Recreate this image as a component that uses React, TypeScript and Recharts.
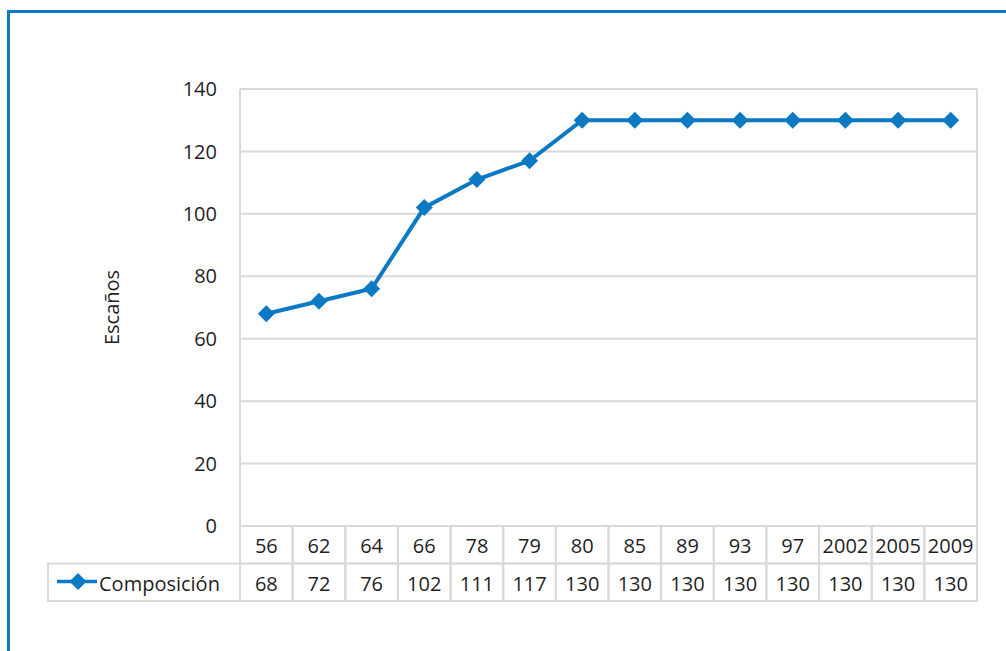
import { LineChart, Line, XAxis, YAxis, CartesianGrid } from 'recharts';

const YEARS = ['56', '62', '64', '66', '78', '79', '80', '85', '89', '93', '97', '2002', '2005', '2009'];
const SEATS = [68, 72, 76, 102, 111, 117, 130, 130, 130, 130, 130, 130, 130, 130];
const Y_TICKS = [0, 20, 40, 60, 80, 100, 120, 140];
const SERIES_NAME = 'Composición';

const DATA = YEARS.map((year, i) => ({ year, value: SEATS[i] }));

const BLUE = '#0b7ac3';
const GRID = '#d9d9d9';
const TEXT = '#1f1f1f';
const FONT = '"Open Sans", sans-serif';
const FS = 20;

// layout
const W = 1006;
const H = 651;
const PLOT_LEFT = 240;
const PLOT_RIGHT = 977;
const PLOT_TOP = 89;
const PLOT_BOTTOM = 526;
const ROW_H = 37.5;
const COL_W = (PLOT_RIGHT - PLOT_LEFT) / YEARS.length;
const LEGEND_LEFT = 48;

const Diamond = (props: any) => {
    const { cx, cy } = props;
    if (cx == null || cy == null) return null;
    const r = 8.5;
    return (
        <polygon
            points={`${cx},${cy - r} ${cx + r},${cy} ${cx},${cy + r} ${cx - r},${cy}`}
            fill={BLUE}
        />
    );
};

const TableTick = (props: any) => {
    const { x, payload, index } = props;
    const left = x - COL_W / 2;
    const r1 = PLOT_BOTTOM;
    const r2 = PLOT_BOTTOM + ROW_H;
    return (
        <g fontFamily={FONT} fontSize={FS} fill={TEXT}>
            <rect x={left} y={r1} width={COL_W} height={ROW_H} fill="none" stroke={GRID} strokeWidth={2} />
            <rect x={left} y={r2} width={COL_W} height={ROW_H} fill="none" stroke={GRID} strokeWidth={2} />
            <text x={x} y={r1 + ROW_H / 2 + 1} textAnchor="middle" dominantBaseline="central">
                {payload.value}
            </text>
            <text x={x} y={r2 + ROW_H / 2 + 1} textAnchor="middle" dominantBaseline="central">
                {SEATS[index]}
            </text>
            {index === 0 && (
                <g>
                    <rect
                        x={LEGEND_LEFT}
                        y={r2}
                        width={PLOT_LEFT - LEGEND_LEFT}
                        height={ROW_H}
                        fill="none"
                        stroke={GRID}
                        strokeWidth={2}
                    />
                    <line x1={57} y1={r2 + 18} x2={97} y2={r2 + 18} stroke={BLUE} strokeWidth={3.5} />
                    <Diamond cx={78} cy={r2 + 18} />
                    <text x={99} y={r2 + ROW_H / 2 + 1} dominantBaseline="central">
                        {SERIES_NAME}
                    </text>
                </g>
            )}
        </g>
    );
};

export default function App() {
    return (
        <div style={{ position: 'fixed', left: 0, top: 0, width: W, height: H, background: '#fff', overflow: 'hidden' }}>
            {/* blue frame */}
            <div
                style={{
                    position: 'absolute',
                    left: 7,
                    top: 10,
                    width: W + 20,
                    height: H + 20,
                    border: `3px solid ${BLUE}`,
                    boxSizing: 'border-box',
                }}
            />
            <div style={{ position: 'absolute', left: 0, top: 0 }}>
                <LineChart
                    width={W}
                    height={H}
                    data={DATA}
                    margin={{ top: PLOT_TOP, right: W - PLOT_RIGHT, left: PLOT_LEFT - 140, bottom: H - PLOT_BOTTOM - 75 }}
                >
                    <CartesianGrid
                        vertical
                        verticalPoints={[PLOT_RIGHT]}
                        stroke={GRID}
                        strokeWidth={2}
                        strokeDasharray=""
                    />
                    <XAxis
                        dataKey="year"
                        height={75}
                        interval={0}
                        axisLine={false}
                        tickLine={false}
                        padding={{ left: COL_W / 2, right: COL_W / 2 }}
                        tick={<TableTick />}
                    />
                    <YAxis
                        width={140}
                        domain={[0, 140]}
                        ticks={Y_TICKS}
                        interval={0}
                        axisLine={{ stroke: GRID, strokeWidth: 2 }}
                        tickLine={false}
                        tickSize={0}
                        tickMargin={23}
                        tick={{ fill: TEXT, fontSize: FS, fontFamily: FONT }}
                        label={{
                            value: 'Escaños',
                            angle: -90,
                            position: 'insideLeft',
                            offset: 12,
                            style: { fill: TEXT, fontSize: FS, fontFamily: FONT, textAnchor: 'middle' },
                        }}
                    />
                    <Line
                        type="linear"
                        dataKey="value"
                        stroke={BLUE}
                        strokeWidth={4}
                        dot={<Diamond />}
                        activeDot={false}
                        isAnimationActive={false}
                    />
                </LineChart>
            </div>
        </div>
    );
}
